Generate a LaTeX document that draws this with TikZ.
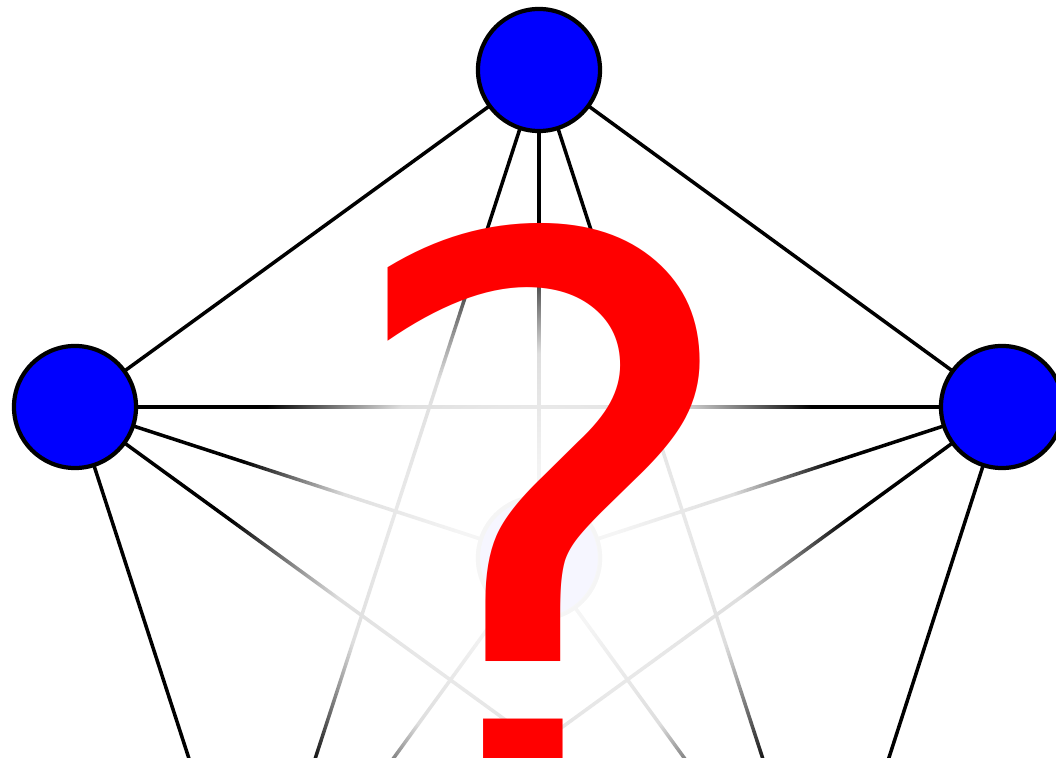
\documentclass[tikz,border=0pt]{standalone}
\usepackage{fontspec}
\newfontfamily\markfont{DejaVu Sans}
\usepackage{xcolor}
\usetikzlibrary{fadings}
\pgfdeclareradialshading{hubglow}{\pgfpoint{0bp}{0bp}}{%
    color(0bp)=(white!97!black); color(6bp)=(white!96!black); color(15bp)=(white!87!black);
    color(22.8bp)=(black); color(25bp)=(black); color(50bp)=(black)}
\pgfdeclarefading{hubfade}{\pgfuseshading{hubglow}}
\tikzset{
    graph/.style={x=0.01cm, y=-0.01cm},
    vertex/.style={circle, draw=black, line width=1.2pt, fill=blue,
        minimum size=1.22cm, inner sep=0pt},
    edge/.style={line width=1pt, draw=black},
    hub veil/.style={fill=white, path fading=hubfade},
    query mark/.style={font=\markfont\fontsize{228}{228}\selectfont,
        text=red, inner sep=0pt, anchor=base},
}
\begin{document}
\begin{tikzpicture}[graph]
    \useasboundingbox (0,0) rectangle (1056,758);

    \coordinate (ctop) at (539,70);
    \coordinate (cleft) at (75,407);
    \coordinate (cright) at (1002,407);
    \coordinate (cbl) at (252,953);
    \coordinate (cbr) at (826,953);
    \coordinate (chub) at (539,558);

    % edges first, vertices on top
    \draw[edge] (ctop) -- (cleft);
    \draw[edge] (ctop) -- (cright);
    \draw[edge] (ctop) -- (cbl);
    \draw[edge] (ctop) -- (cbr);
    \draw[edge] (ctop) -- (chub);
    \draw[edge] (cleft) -- (cright);
    \draw[edge] (cleft) -- (cbl);
    \draw[edge] (cleft) -- (cbr);
    \draw[edge] (cleft) -- (chub);
    \draw[edge] (cright) -- (cbl);
    \draw[edge] (cright) -- (cbr);
    \draw[edge] (cright) -- (chub);
    \draw[edge] (cbl) -- (cbr);
    \draw[edge] (cbl) -- (chub);
    \draw[edge] (cbr) -- (chub);

    \node[vertex] (top) at (ctop) {};
    \node[vertex] (left) at (cleft) {};
    \node[vertex] (right) at (cright) {};
    \node[vertex] (bl) at (cbl) {};
    \node[vertex] (br) at (cbr) {};
    \node[vertex] (hub) at (chub) {};

    % white veil over the middle
    \fill[hub veil] (chub) circle (340);

    \node[query mark] (mark) at (543,819) {?};
\end{tikzpicture}
\end{document}
